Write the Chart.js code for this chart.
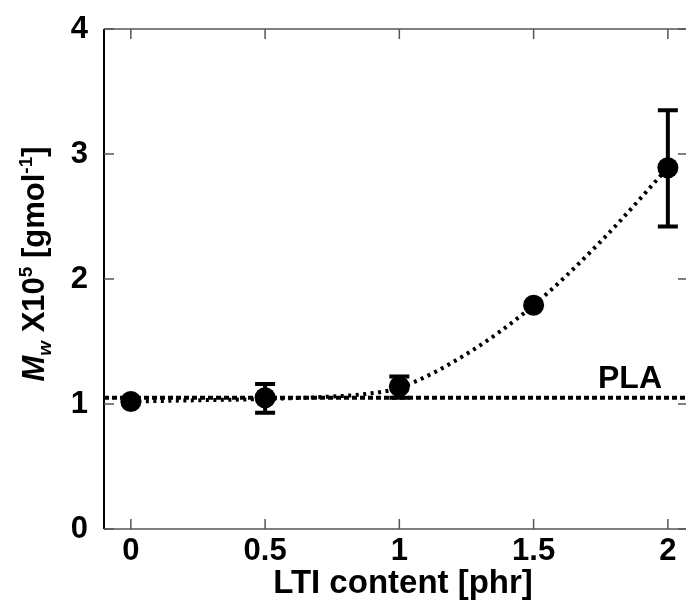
<!DOCTYPE html>
<html>
<head>
<meta charset="utf-8">
<script src="https://cdn.jsdelivr.net/npm/chart.js@4.4.1/dist/chart.umd.min.js"></script>
<style>
  html, body { margin: 0; padding: 0; background: #fff; overflow: hidden; }
  #wrap { width: 700px; height: 602px; }
</style>
</head>
<body>
<div id="wrap"><canvas id="mwChart"></canvas></div>
<script>
// measured points
const ltiContent = [0, 0.5, 1, 1.5, 2];
const mwMean = [1.02, 1.05, 1.14, 1.79, 2.89];
const mwErrLow = [null, 0.93, 1.05, null, 2.42];
const mwErrHigh = [null, 1.16, 1.22, null, 3.35];

// fitted curve
const fitX = [0, 0.25, 0.5, 0.75, 0.875, 1, 1.25, 1.5, 1.75, 2];
const fitY = [1.02, 1.03, 1.04, 1.06, 1.08, 1.13, 1.40, 1.79, 2.30, 2.89];

// neat PLA reference level
const plaX = [-0.1, 2.075];
const plaY = [1.05, 1.05];

const xTicks = [0, 0.5, 1, 1.5, 2];
const xTickLabels = ['0', '0.5', '1', '1.5', '2'];
const yTicks = [0, 1, 2, 3, 4];

const FONT = '"Liberation Sans", Arial, Helvetica, sans-serif';

function pairs(xs, ys) {
    return xs.map(function(v, i) { return { x: v, y: ys[i] }; });
}

const framePlugin = {
    id: 'frame',
    afterDatasetsDraw: function(chart) {
        const ctx = chart.ctx;
        const xs = chart.scales.x, ys = chart.scales.y;
        ctx.save();
        ctx.strokeStyle = '#000';
        ctx.lineWidth = 4;
        ctx.lineCap = 'butt';
        ltiContent.forEach(function(v, i) {
            if (mwErrLow[i] == null) return;
            const px = xs.getPixelForValue(v);
            const yLo = ys.getPixelForValue(mwErrLow[i]);
            const yHi = ys.getPixelForValue(mwErrHigh[i]);
            ctx.beginPath();
            ctx.moveTo(px, yLo); ctx.lineTo(px, yHi);
            ctx.moveTo(px - 10, yLo); ctx.lineTo(px + 10, yLo);
            ctx.moveTo(px - 10, yHi); ctx.lineTo(px + 10, yHi);
            ctx.stroke();
        });
        ctx.restore();
    },
    afterDraw: function(chart) {
        const ctx = chart.ctx;
        const a = chart.chartArea;
        const xs = chart.scales.x, ys = chart.scales.y;
        ctx.save();
        // box
        ctx.lineWidth = 1.5;
        ctx.strokeStyle = '#555';
        ctx.beginPath();
        ctx.moveTo(a.left, a.top); ctx.lineTo(a.right, a.top);
        ctx.moveTo(a.left, a.bottom); ctx.lineTo(a.right, a.bottom);
        ctx.moveTo(a.right, a.top); ctx.lineTo(a.right, a.bottom);
        ctx.stroke();
        ctx.strokeStyle = '#000';
        ctx.lineWidth = 2;
        ctx.beginPath();
        ctx.moveTo(a.left, a.top); ctx.lineTo(a.left, a.bottom);
        ctx.stroke();
        // inward ticks
        ctx.strokeStyle = '#555';
        ctx.lineWidth = 1.5;
        ctx.beginPath();
        xTicks.forEach(function(v) {
            const px = xs.getPixelForValue(v);
            ctx.moveTo(px, a.bottom); ctx.lineTo(px, a.bottom - 10);
            ctx.moveTo(px, a.top); ctx.lineTo(px, a.top + 10);
        });
        yTicks.forEach(function(v) {
            const py = ys.getPixelForValue(v);
            ctx.moveTo(a.left, py); ctx.lineTo(a.left + 10, py);
            ctx.moveTo(a.right, py); ctx.lineTo(a.right - 10, py);
        });
        ctx.stroke();

        ctx.fillStyle = '#000';
        // PLA label
        ctx.font = 'bold 32px ' + FONT;
        ctx.textAlign = 'center';
        ctx.textBaseline = 'alphabetic';
        ctx.fillText('PLA', 630, 388);

        // x title
        ctx.font = 'bold 33px ' + FONT;
        ctx.fillText('LTI content [phr]', 403, 593);

        // y title with sub/superscripts
        const parts = [
            { t: 'M', f: 'italic bold 31px ', dy: 0 },
            { t: 'w', f: 'italic bold 19px ', dy: 7 },
            { t: ' X10', f: 'bold 31px ', dy: 0 },
            { t: '5', f: 'bold 19px ', dy: -12 },
            { t: ' [gmol', f: 'bold 31px ', dy: 0 },
            { t: '-1', f: 'bold 19px ', dy: -12 },
            { t: ']', f: 'bold 31px ', dy: 0 }
        ];
        let total = 0;
        parts.forEach(function(p) {
            ctx.font = p.f + FONT;
            p.w = ctx.measureText(p.t).width;
            total += p.w;
        });
        ctx.translate(44, 264);
        ctx.rotate(-Math.PI / 2);
        ctx.textAlign = 'left';
        let cx = -total / 2;
        parts.forEach(function(p) {
            ctx.font = p.f + FONT;
            ctx.fillText(p.t, cx, p.dy);
            cx += p.w;
        });
        ctx.restore();
    }
};

const ctx = document.getElementById('mwChart').getContext('2d');
new Chart(ctx, {
    type: 'scatter',
    data: {
        datasets: [
            {
                label: 'Mw',
                data: pairs(ltiContent, mwMean),
                showLine: false,
                pointRadius: 10.5,
                pointHoverRadius: 10.5,
                pointBackgroundColor: '#000',
                pointBorderColor: '#000',
                pointBorderWidth: 0
            },
            {
                label: 'fit',
                data: pairs(fitX, fitY),
                showLine: true,
                pointRadius: 0,
                borderColor: '#000',
                borderWidth: 4,
                borderDash: [3, 4.5],
                cubicInterpolationMode: 'monotone'
            },
            {
                label: 'PLA',
                data: pairs(plaX, plaY),
                showLine: true,
                pointRadius: 0,
                borderColor: '#000',
                borderWidth: 4,
                borderDash: [5, 3]
            }
        ]
    },
    options: {
        responsive: true,
        maintainAspectRatio: false,
        animation: false,
        layout: { padding: { top: 29, right: 12, left: 0, bottom: 0 } },
        plugins: { legend: { display: false }, tooltip: { enabled: false } },
        scales: {
            x: {
                type: 'linear',
                min: -0.1,
                max: 2.075,
                afterBuildTicks: function(scale) {
                    scale.ticks = xTicks.map(function(v) { return { value: v }; });
                },
                afterFit: function(scale) {
                    scale.height = 73;
                    scale.paddingLeft = 0;
                    scale.paddingRight = 0;
                },
                grid: { display: false, drawTicks: false },
                border: { display: false },
                ticks: {
                    padding: 4,
                    color: '#000',
                    font: { family: FONT, size: 31, weight: 'bold' },
                    callback: function(value) {
                        const i = xTicks.indexOf(value);
                        return i >= 0 ? xTickLabels[i] : '';
                    }
                }
            },
            y: {
                min: 0,
                max: 4,
                afterBuildTicks: function(scale) {
                    scale.ticks = yTicks.map(function(v) { return { value: v }; });
                },
                afterFit: function(scale) {
                    scale.width = 104;
                    scale.paddingTop = 0;
                    scale.paddingBottom = 0;
                },
                grid: { display: false, drawTicks: false },
                border: { display: false },
                ticks: {
                    padding: 16,
                    color: '#000',
                    font: { family: FONT, size: 31, weight: 'bold' }
                }
            }
        }
    },
    plugins: [framePlugin]
});
</script>
</body>
</html>
